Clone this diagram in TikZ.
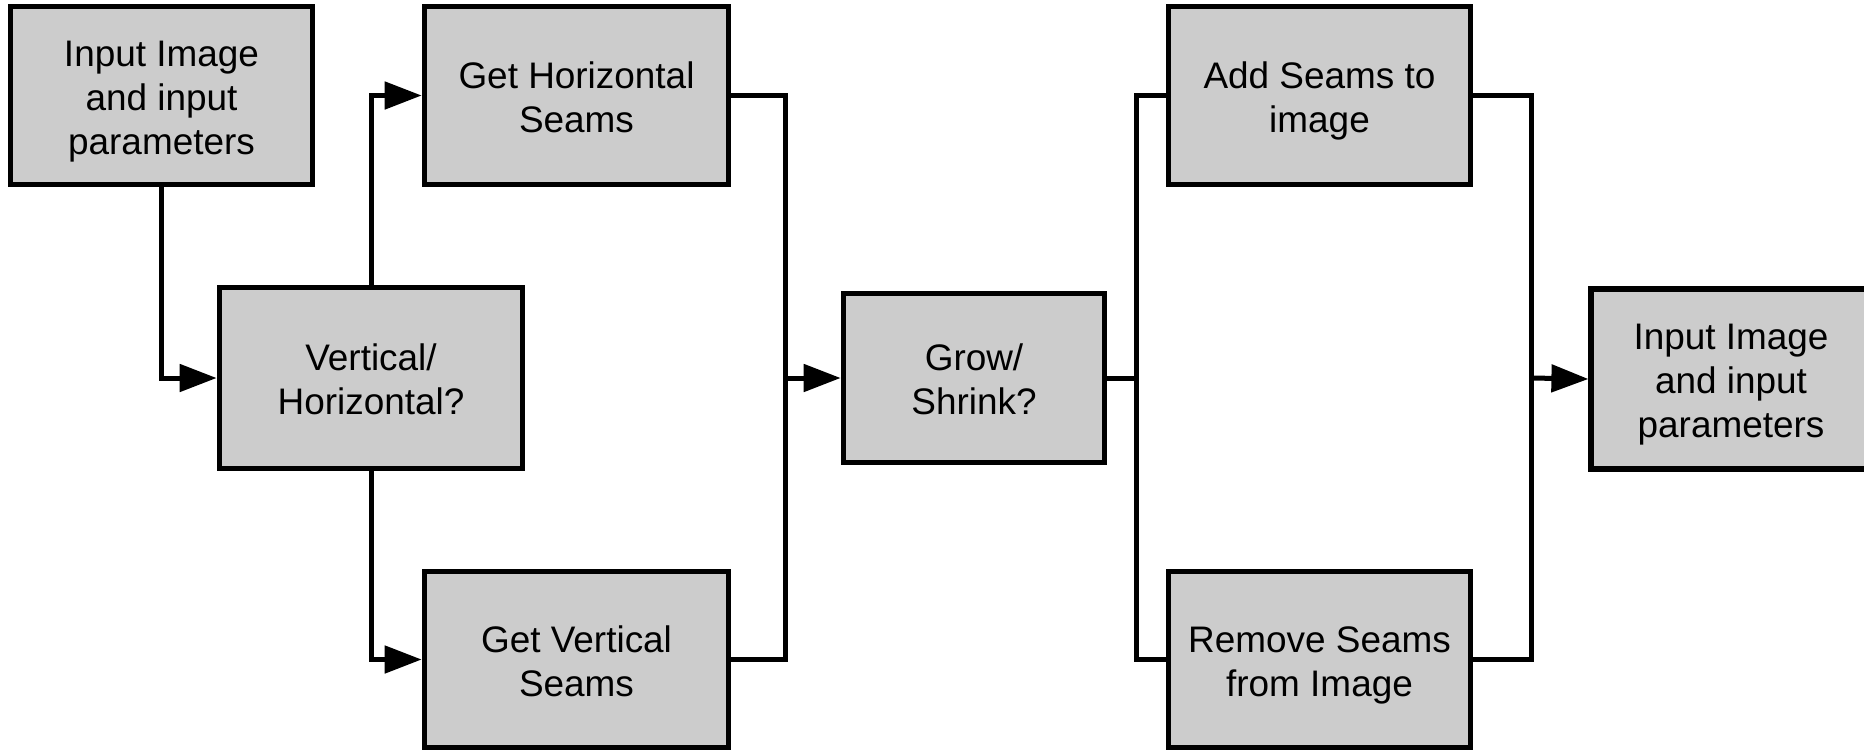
\documentclass[tikz,border=0pt]{standalone}
\usepackage{fontspec}
\setmainfont{Liberation Sans}
\usetikzlibrary{arrows.meta}
\definecolor{boxgray}{HTML}{CCCCCC}
\newcommand\tpst{\rule{0pt}{0.428cm}}
\newcommand\btst{\rule[-0.132cm]{0pt}{0pt}}
\tikzset{
  box/.style={draw=black, fill=boxgray, line width=0.055cm, rectangle, align=center,
    inner sep=0pt, font=\fontsize{10.5}{12.5}\selectfont},
  conn/.style={draw=black, line width=0.05cm},
  arr/.style={conn, -{Triangle[length=0.37cm, width=0.27cm]}}
}
\begin{document}
\begin{tikzpicture}[x=0.01cm, y=-0.01cm]
\useasboundingbox (0,0) rectangle (1864,751);
\node[box, minimum width=3.02cm, minimum height=1.78cm] (b1) at (161.5,95.5) {\tpst Input Image\\and input\\parameters\btst};
\node[box, minimum width=3.04cm, minimum height=1.78cm] (gh) at (576.5,95.5) {\tpst Get Horizontal\\Seams\btst};
\node[box, minimum width=3.03cm, minimum height=1.81cm] (vh) at (371,378) {\tpst Vertical/\\Horizontal?\btst};
\node[box, minimum width=3.04cm, minimum height=1.76cm] (gv) at (576.5,659.5) {\tpst Get Vertical\\Seams\btst};
\node[box, minimum width=2.61cm, minimum height=1.69cm] (grow) at (974,378) {\tpst Grow/\\Shrink?\btst};
\node[box, minimum width=3.02cm, minimum height=1.78cm] (add) at (1319.5,95.5) {\tpst Add Seams to\\image\btst};
\node[box, minimum width=3.02cm, minimum height=1.76cm] (rem) at (1319.5,659.5) {\tpst Remove Seams\\from Image\btst};
\node[box, minimum width=2.795cm, minimum height=1.80cm] (out) at (1731,379) {\tpst Input Image\\and input\\parameters\btst};
\coordinate (j1) at (785,378);
\coordinate (j2) at (1136,378);
\coordinate (j3) at (1531,378);
\draw[arr] (b1.south) |- (vh.west);
\draw[arr] (vh.north) |- (gh.west);
\draw[arr] (vh.south) |- (gv.west);
\draw[conn] (gh.east) -| (j1) |- (gv.east);
\draw[arr] (j1) -- (grow.west);
\draw[conn] (grow.east) -- (j2);
\draw[conn] (add.west) -| (j2) |- (rem.west);
\draw[conn] (add.east) -| (j3) |- (rem.east);
\draw[arr] (j3) -- (out.west);
\end{tikzpicture}
\end{document}
